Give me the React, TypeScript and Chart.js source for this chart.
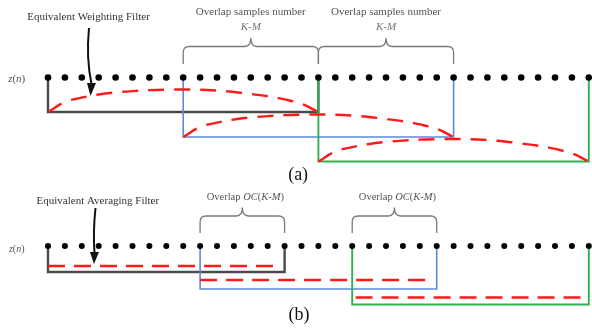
import React, { useEffect, useRef } from "react";
import { Chart, registerables } from "chart.js";

Chart.register(...registerables);

// ---- data (x in sample index units, y in figure rows) ----
const samples = [0, 1, 2, 3, 4, 5, 6, 7, 8, 9, 10, 11, 12, 13, 14, 15, 16, 17, 18, 19, 20, 21, 22, 23, 24, 25, 26, 27, 28, 29, 30, 31, 32];
const rowAY = 77.5;
const rowBY = 246;

// panel (a): weighting windows
const winAStarts = [0, 8, 16];
const winAEnds = [16, 24, 32];
const winABottoms = [112, 137, 161.5];
const arcShape = [0, 0.44, 0.64, 0.78, 0.87, 0.93, 0.97, 0.99, 1.0, 0.99, 0.95, 0.89, 0.8, 0.7, 0.56, 0.36, 0];
const arcHeight = 22.5;

// panel (b): averaging windows
const winBStarts = [0, 9, 18];
const winBEnds = [14, 23, 32];
const winBBottoms = [272, 289, 304.5];
const avgLevels = [266, 280, 297.5];
const avgStarts = [0, 9, 18.2];
const avgEnds = [13.7, 22.6, 32];

// braces
const bracesA = [[8, 16], [16, 24]];
const bracesB = [[9, 14], [18, 23]];

// ---- styles ----
const winColors = ["#4a4a4a", "#5b8bd6", "#2fb14f"];
const winWidths = [2.4, 1.6, 1.9];
const RED = "#ff1a1a";
const SERIF = '"Liberation Serif", "Times New Roman", serif';

type Seg = [string, boolean];

function rich(ctx: CanvasRenderingContext2D, segs: Seg[], cx: number, cy: number, size: number, color: string, weight = "") {
  let total = 0;
  const widths: number[] = [];
  segs.forEach(([t, it]) => {
    ctx.font = `${it ? "italic " : ""}${weight}${size}px ${SERIF}`;
    const w = ctx.measureText(t).width;
    widths.push(w);
    total += w;
  });
  let x = cx - total / 2;
  ctx.fillStyle = color;
  ctx.textBaseline = "middle";
  ctx.textAlign = "left";
  segs.forEach(([t, it], i) => {
    ctx.font = `${it ? "italic " : ""}${weight}${size}px ${SERIF}`;
    ctx.fillText(t, x, cy);
    x += widths[i];
  });
}

function brace(ctx: CanvasRenderingContext2D, x1: number, x2: number, yEnd: number, yTop: number, yCusp: number, r: number) {
  const xm = (x1 + x2) / 2;
  ctx.beginPath();
  ctx.moveTo(x1, yEnd);
  ctx.lineTo(x1, yTop + r);
  ctx.quadraticCurveTo(x1, yTop, x1 + r, yTop);
  ctx.lineTo(xm - r, yTop);
  ctx.quadraticCurveTo(xm, yTop, xm, yCusp);
  ctx.quadraticCurveTo(xm, yTop, xm + r, yTop);
  ctx.lineTo(x2 - r, yTop);
  ctx.quadraticCurveTo(x2, yTop, x2, yTop + r);
  ctx.lineTo(x2, yEnd);
  ctx.stroke();
}

function arrow(ctx: CanvasRenderingContext2D, x0: number, y0: number, cx: number, cy: number, x1: number, y1: number, tx: number, ty: number, hw: number) {
  ctx.strokeStyle = "#111";
  ctx.fillStyle = "#111";
  ctx.lineWidth = 2;
  ctx.beginPath();
  ctx.moveTo(x0, y0);
  ctx.quadraticCurveTo(cx, cy, x1, y1 + 1);
  ctx.stroke();
  ctx.beginPath();
  ctx.moveTo(x1 - hw, y1);
  ctx.lineTo(x1 + hw, y1);
  ctx.lineTo(tx, ty);
  ctx.closePath();
  ctx.fill();
}

const annotations = {
  id: "annotations",
  afterDatasetsDraw(chart: any) {
    const ctx: CanvasRenderingContext2D = chart.ctx;
    const X = (v: number) => chart.scales.x.getPixelForValue(v);
    const Y = (v: number) => chart.scales.y.getPixelForValue(v);
    ctx.save();

    // braces
    ctx.strokeStyle = "#7a7a7a";
    ctx.lineWidth = 1.3;
    bracesA.forEach(([a, b]) => brace(ctx, X(a), X(b), Y(64), Y(46.5), Y(38), 6));
    bracesB.forEach(([a, b]) => brace(ctx, X(a), X(b), Y(233), Y(216), Y(207.5), 6));

    // brace labels
    bracesA.forEach(([a, b]) => {
      const cx = X((a + b) / 2);
      rich(ctx, [["Overlap samples number", false]], cx, Y(12), 11, "#555");
      rich(ctx, [["K", true], ["-", false], ["M", true]], cx, Y(27), 11, "#777");
    });
    bracesB.forEach(([a, b]) => {
      const cx = X((a + b) / 2) + 3;
      rich(ctx, [["Overlap ", false], ["OC", true], ["(", false], ["K", true], ["-", false], ["M", true], [")", false]], cx, Y(197), 10.5, "#555");
    });

    // filter labels
    rich(ctx, [["Equivalent Weighting Filter", false]], X(2.4), Y(17), 11, "#333");
    rich(ctx, [["Equivalent Averaging Filter", false]], X(2.95), Y(201.5), 11, "#333");

    // z(n)
    rich(ctx, [["z", true], ["(", false], ["n", true], [")", false]], X(-1.85), Y(79), 11, "#555");
    rich(ctx, [["z", true], ["(", false], ["n", true], [")", false]], X(-1.85), Y(249), 10, "#555");

    // panel labels
    rich(ctx, [["(a)", false]], X(14.8), Y(175), 18, "#111");
    rich(ctx, [["(b)", false]], X(14.85), Y(315.5), 18, "#111");

    // arrows
    arrow(ctx, X(2.426), Y(28), X(2.25), Y(58), X(2.574), Y(83), X(2.515), Y(96), 4.5);
    arrow(ctx, X(2.811), Y(208), X(2.66), Y(232), X(2.751), Y(252), X(2.722), Y(264), 4.5);

    ctx.restore();
  },
};

export default function App() {
  const ref = useRef<HTMLCanvasElement | null>(null);

  useEffect(() => {
    if (!ref.current) return;
    const datasets: any[] = [];

    // dots (first = drawn on top)
    datasets.push({
      data: samples.map((s) => ({ x: s, y: rowAY })),
      pointRadius: 3.3,
      pointBackgroundColor: "#000",
      pointBorderWidth: 0,
      showLine: false,
    });
    datasets.push({
      data: samples.map((s) => ({ x: s, y: rowBY })),
      pointRadius: 3,
      pointBackgroundColor: "#000",
      pointBorderWidth: 0,
      showLine: false,
    });

    // red weighting arcs
    winAStarts.forEach((s, i) => {
      datasets.push({
        data: arcShape.map((v, k) => ({ x: s + k, y: winABottoms[i] - arcHeight * v })),
        showLine: true,
        pointRadius: 0,
        borderColor: RED,
        borderWidth: 2.4,
        borderDash: [16, 10],
        tension: 0.4,
      });
    });

    // red averaging lines
    avgStarts.forEach((s, i) => {
      datasets.push({
        data: [{ x: s, y: avgLevels[i] }, { x: avgEnds[i], y: avgLevels[i] }],
        showLine: true,
        pointRadius: 0,
        borderColor: RED,
        borderWidth: 2.4,
        borderDash: [17, 9],
      });
    });

    // window outlines: later windows drawn on top (lower dataset index = drawn later)
    [2, 1, 0].forEach((i) => {
      datasets.push({
        data: [
          { x: winAStarts[i], y: rowAY },
          { x: winAStarts[i], y: winABottoms[i] },
          { x: winAEnds[i], y: winABottoms[i] },
          { x: winAEnds[i], y: rowAY },
        ],
        showLine: true,
        pointRadius: 0,
        borderColor: winColors[i],
        borderWidth: winWidths[i],
        tension: 0,
      });
      datasets.push({
        data: [
          { x: winBStarts[i], y: rowBY },
          { x: winBStarts[i], y: winBBottoms[i] },
          { x: winBEnds[i], y: winBBottoms[i] },
          { x: winBEnds[i], y: rowBY },
        ],
        showLine: true,
        pointRadius: 0,
        borderColor: winColors[i],
        borderWidth: winWidths[i],
        tension: 0,
      });
    });

    const chart = new Chart(ref.current, {
      type: "scatter",
      data: { datasets },
      options: {
        responsive: false,
        animation: false,
        devicePixelRatio: 1,
        layout: { padding: 0, autoPadding: false },
        plugins: { legend: { display: false }, tooltip: { enabled: false } },
        elements: { line: { borderJoinStyle: "miter", borderCapStyle: "butt" } },
        scales: {
          x: { type: "linear", min: -2.84, max: 32.189, display: false },
          y: { type: "linear", min: 0, max: 335, reverse: true, display: false },
        },
      },
      plugins: [annotations],
    });
    return () => chart.destroy();
  }, []);

  return (
    <div style={{ position: "absolute", left: 0, top: 0, width: 592, height: 335, background: "#fff" }}>
      <canvas ref={ref} width={592} height={335} style={{ display: "block" }} />
    </div>
  );
}
